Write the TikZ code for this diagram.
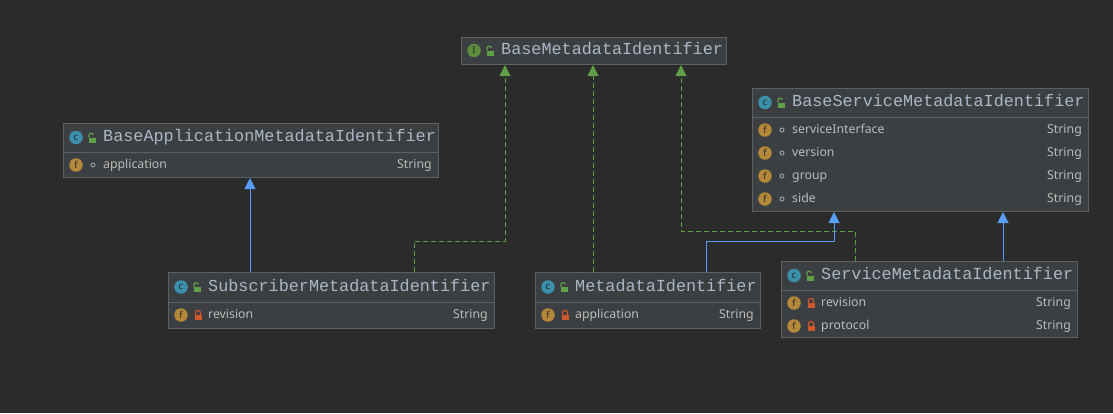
\documentclass[tikz,border=0pt]{standalone}
\usepackage{fontspec}
\setmainfont{Noto Sans}
\newfontfamily\monof{Liberation Mono}
\usetikzlibrary{calc,arrows.meta}
\definecolor{bg}{HTML}{2B2B2B}
\definecolor{boxf}{HTML}{3C3F41}
\definecolor{boxd}{HTML}{5E6163}
\definecolor{titc}{HTML}{A9B7C6}
\definecolor{fldc}{HTML}{BBBBBB}
\definecolor{cic}{HTML}{3C8FAA}
\definecolor{iic}{HTML}{5C8C3C}
\definecolor{fic}{HTML}{B3883A}
\definecolor{lkg}{HTML}{5FA048}
\definecolor{lkr}{HTML}{D0562E}
\definecolor{blu}{HTML}{589DF6}
\definecolor{grn}{HTML}{5F9C46}
\tikzset{
 box/.style={draw=boxd, fill=boxf, line width=1pt, inner sep=0, anchor=north west},
 title/.style={text=titc, font=\monof\fontsize{16.8}{17}\selectfont, anchor=west, inner sep=0, text height=10pt, text depth=2pt},
 fld/.style={text=fldc, font=\fontsize{12.3}{13}\selectfont, anchor=west, inner sep=0, text height=9pt, text depth=3pt},
 typ/.style={fld, anchor=east},
 ico/.style={circle, fill=#1, minimum size=13.5pt, inner sep=0, text=black!85, font=\bfseries\fontsize{9.5}{9.5}\selectfont},
 inh/.style={blu, line width=1pt, -{Triangle[width=11pt,length=11pt]}},
 impl/.style={grn, line width=1pt, dash pattern=on 5pt off 3pt, -{Triangle[width=11pt,length=11pt]}},
}
\newcommand{\openlock}[2]{\fill[lkg] (#1-3.5,#2) rectangle (#1+3.5,#2+5);
 \draw[lkg, line width=1.2pt] (#1-3,#2) -- (#1-3,#2-2.5) arc(180:360:2.2 and 1.8);}
\newcommand{\closedlock}[2]{\fill[lkr] (#1-3.5,#2) rectangle (#1+3.5,#2+5);
 \draw[lkr, line width=1.2pt] (#1-2.5,#2) -- (#1-2.5,#2-2.5) arc(180:360:2.5 and 2) -- (#1+2.5,#2);}
\newcommand{\dotacc}[2]{\draw[gray!80, line width=1pt] (#1,#2) circle (2pt);}
\newcommand{\header}[5]{% x y name iconcolor letter
 \node[ico=#4] (#3i) at (#1+13,#2) {#5};
 \openlock{#1+29}{#2}
 \node[title] (#3t) at (#1+40,#2) {#3};}
\newcommand{\fieldrow}[6]{% x1 x2 y name locktype type
 \node[ico=fic] at (#1+13,#3) {f};
 #5{#1+30}{#3}
 \node[fld] at (#1+40,#3) {#4};
 \node[typ] at (#2-6,#3) {#6};}
\begin{document}
\begin{tikzpicture}[x=1pt,y=-1pt]
\fill[bg] (0,0) rectangle (1113,413);
\useasboundingbox (0,0) rectangle (1113,413);
% BaseMetadataIdentifier
\node[box, minimum width=265pt, minimum height=27pt] (bmi) at (461,37) {};
\header{461}{50.5}{BaseMetadataIdentifier}{iic}{I}
% BaseApplicationMetadataIdentifier
\node[box, minimum width=375pt, minimum height=54pt] (bam) at (63,123) {};
\draw[boxd, line width=1pt] (63,152) -- (438,152);
\header{63}{137.5}{BaseApplicationMetadataIdentifier}{cic}{c}
\fieldrow{63}{438}{165}{application}{\dotacc}{String}
% BaseServiceMetadataIdentifier
\node[box, minimum width=336pt, minimum height=123pt] (bsm) at (752,88) {};
\draw[boxd, line width=1pt] (752,117) -- (1088,117);
\header{752}{102.5}{BaseServiceMetadataIdentifier}{cic}{c}
\fieldrow{752}{1088}{130}{serviceInterface}{\dotacc}{String}
\fieldrow{752}{1088}{153}{version}{\dotacc}{String}
\fieldrow{752}{1088}{176}{group}{\dotacc}{String}
\fieldrow{752}{1088}{199}{side}{\dotacc}{String}
% SubscriberMetadataIdentifier
\node[box, minimum width=326pt, minimum height=56pt] (smi) at (168,272) {};
\draw[boxd, line width=1pt] (168,302) -- (494,302);
\header{168}{287}{SubscriberMetadataIdentifier}{cic}{c}
\fieldrow{168}{494}{315}{revision}{\closedlock}{String}
% MetadataIdentifier
\node[box, minimum width=225pt, minimum height=56pt] (mi) at (535,272) {};
\draw[boxd, line width=1pt] (535,302) -- (760,302);
\header{535}{287}{MetadataIdentifier}{cic}{c}
\fieldrow{535}{760}{315}{application}{\closedlock}{String}
% ServiceMetadataIdentifier
\node[box, minimum width=296pt, minimum height=76pt] (svm) at (781,261) {};
\draw[boxd, line width=1pt] (781,290) -- (1077,290);
\header{781}{275.5}{ServiceMetadataIdentifier}{cic}{c}
\fieldrow{781}{1077}{303}{revision}{\closedlock}{String}
\fieldrow{781}{1077}{326}{protocol}{\closedlock}{String}
% connectors
\coordinate (a1) at (414,241); \coordinate (a2) at (505,241);
\coordinate (b1) at (706,241); \coordinate (b2) at (834,241);
\coordinate (c1) at (855,231); \coordinate (c2) at (681,231);
\draw[impl] (smi.north west -| a1) -- (a1) -- (a2) -- (bmi.south west -| a2);
\draw[impl] (mi.north west -| 593,0) -- (bmi.south west -| 593,0);
\draw[impl] (svm.north west -| c1) -- (c1) -- (c2) -- (bmi.south west -| c2);
\draw[inh] (smi.north west -| 250,0) -- (bam.south west -| 250,0);
\draw[inh] (mi.north west -| b1) -- (b1) -- (b2) -- (bsm.south west -| b2);
\draw[inh] (svm.north west -| 1003,0) -- (bsm.south west -| 1003,0);
\end{tikzpicture}
\end{document}
